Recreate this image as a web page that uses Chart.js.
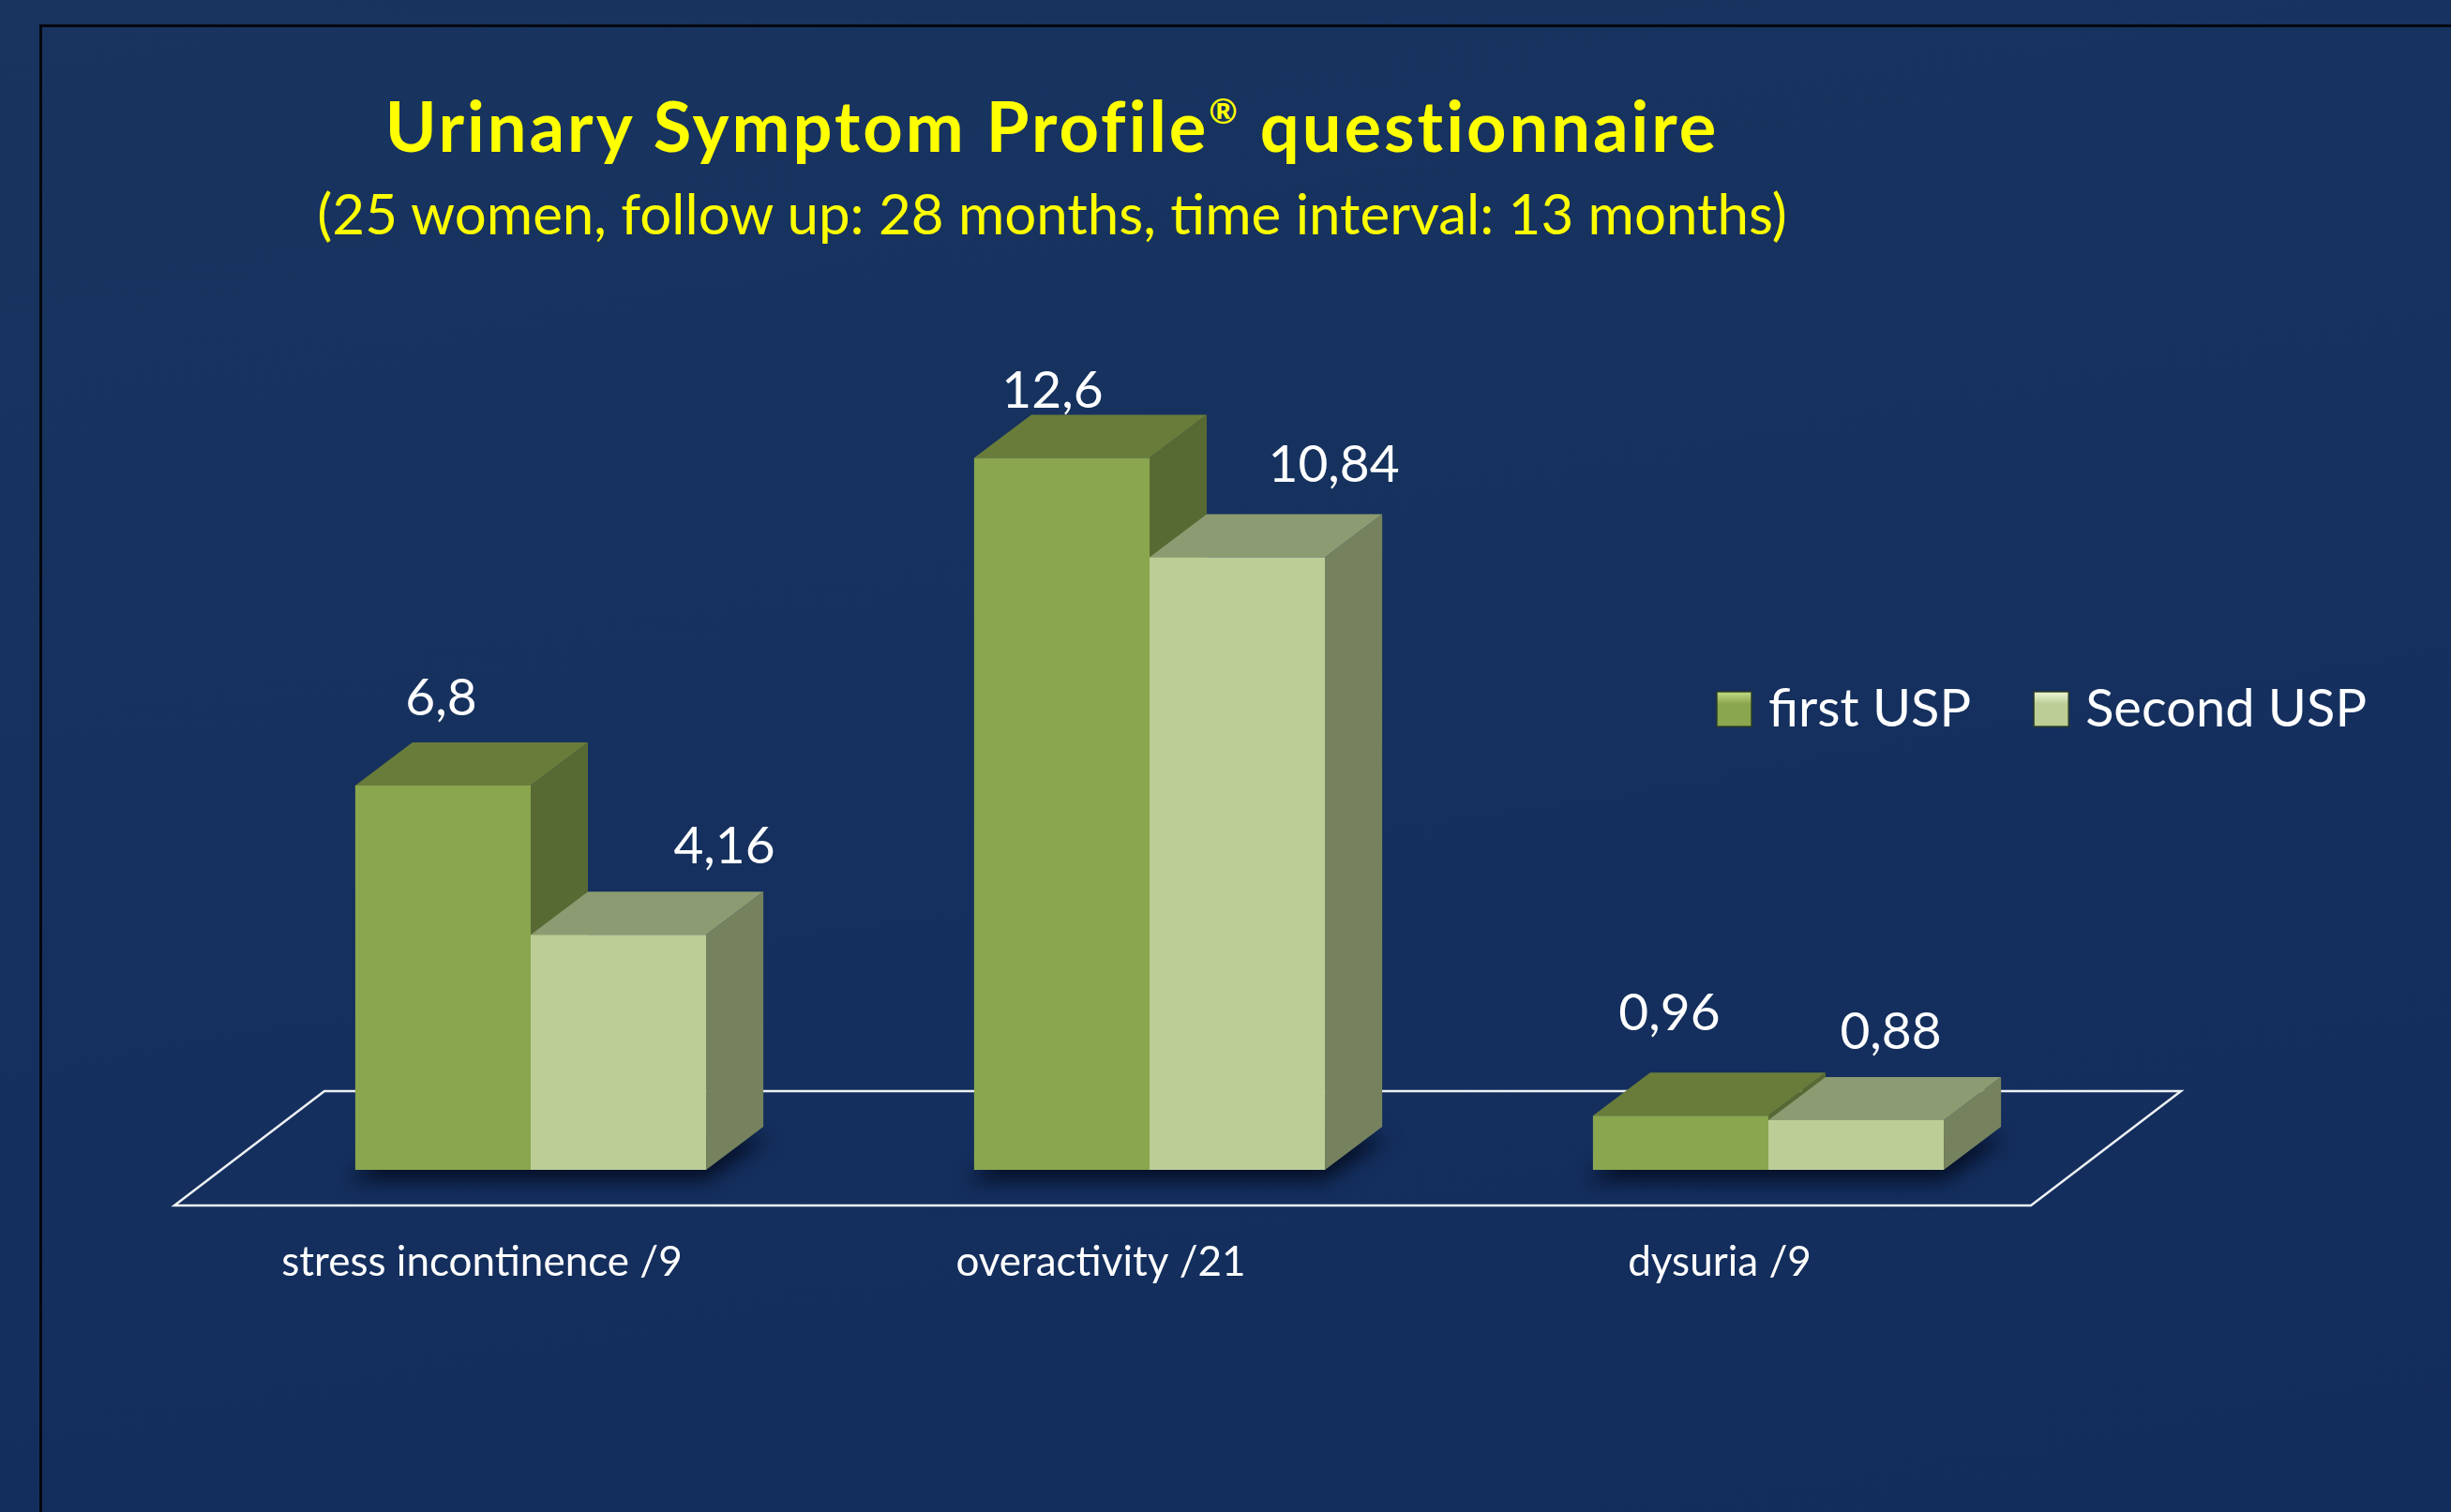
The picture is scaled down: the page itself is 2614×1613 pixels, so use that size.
<!DOCTYPE html>
<html>
<head>
<meta charset="utf-8">
<script src="https://cdn.jsdelivr.net/npm/chart.js@4.4.1/dist/chart.umd.min.js"></script>
<style>
  html, body { margin: 0; padding: 0; }
  body {
    width: 2614px; height: 1613px; overflow: hidden; position: relative;
    background: linear-gradient(170deg, #18345f 0%, #15305e 55%, #122c5b 100%);
    font-family: Lato, sans-serif;
  }
  #frame {
    position: absolute; left: 42px; top: 26px; width: 3000px; height: 3000px;
    border-left: 3px solid #05080f; border-top: 3px solid #05080f;
  }
  .title {
    position: absolute; left: 1122px; transform: translateX(-50%);
    white-space: nowrap; color: #ffff00; line-height: 1.2;
  }
  #t1 { top: 90px; font-size: 74px; font-weight: 700; letter-spacing: 3px; }
  #t1 sup { font-size: 0.5em; vertical-align: baseline; position: relative; top: -0.8em; line-height: 0; }
  #t2 { top: 191px; font-size: 60px; }
  canvas { position: absolute; left: 0; top: 0; }
</style>
</head>
<body>
<div id="frame"></div>
<div class="title" id="t1">Urinary Symptom Profile<sup>®</sup> questionnaire</div>
<div class="title" id="t2">(25 women, follow up: 28 months, time interval: 13 months)</div>
<canvas id="chart" width="2614" height="1613"></canvas>
<script>
// ---- Data ----
const categories = ['stress incontinence /9', 'overactivity /21', 'dysuria /9'];
const seriesNames = ['first USP', 'Second USP'];
const firstUSP = [6.8, 12.6, 0.96];
const secondUSP = [4.16, 10.84, 0.88];

// ---- Styles ----
const frontColors = ['#8aa64e', '#bccd96'];
const topColors = ['#6a7c3a', '#8d9b72'];
const sideColors = ['#586a34', '#76825e'];
const legendLight = ['#c4dc86', '#eef6d6'];
const DX = 61, DY = -46; // depth of the boxes

// 3D floor, shadows, top and side faces of the boxes
const boxes3d = {
  id: 'boxes3d',
  beforeDatasetsDraw(chart) {
    const ctx = chart.ctx, a = chart.chartArea;
    ctx.save();

    // floor
    ctx.strokeStyle = '#eef1f6';
    ctx.lineWidth = 2.5;
    ctx.beginPath();
    ctx.moveTo(a.left - 50, a.bottom + 38);
    ctx.lineTo(a.right - 50, a.bottom + 38);
    ctx.lineTo(a.right + 110, a.bottom - 84);
    ctx.lineTo(a.left + 110, a.bottom - 84);
    ctx.closePath();
    ctx.stroke();

    const metas = chart.data.datasets.map((ds, d) => chart.getDatasetMeta(d));
    const n = chart.data.labels.length;

    // shadows under each group
    ctx.filter = 'blur(10px)';
    ctx.fillStyle = 'rgba(3,10,30,0.85)';
    for (let i = 0; i < n; i++) {
      const first = metas[0].data[i], last = metas[metas.length - 1].data[i];
      const l = first.x - first.width / 2 - 8, r = last.x + last.width / 2;
      const b = first.base + 12;
      ctx.beginPath();
      ctx.moveTo(l, b);
      ctx.lineTo(r, b);
      ctx.lineTo(r + DX + 6, b + DY);
      ctx.lineTo(l + DX, b + DY);
      ctx.closePath();
      ctx.fill();
    }
    ctx.filter = 'none';

    // side and top faces
    for (let i = 0; i < n; i++) {
      metas.forEach((meta, d) => {
        const bar = meta.data[i];
        const l = bar.x - bar.width / 2, r = bar.x + bar.width / 2;
        const t = bar.y, b = bar.base;
        ctx.fillStyle = sideColors[d];
        ctx.beginPath();
        ctx.moveTo(r, t);
        ctx.lineTo(r + DX, t + DY);
        ctx.lineTo(r + DX, b + DY);
        ctx.lineTo(r, b);
        ctx.closePath();
        ctx.fill();
        ctx.fillStyle = topColors[d];
        ctx.beginPath();
        ctx.moveTo(l, t);
        ctx.lineTo(l + DX, t + DY);
        ctx.lineTo(r + DX, t + DY);
        ctx.lineTo(r, t);
        ctx.closePath();
        ctx.fill();
      });
    }
    ctx.restore();
  }
};

// value labels above the boxes (comma decimals)
const valueLabels = {
  id: 'valueLabels',
  afterDatasetsDraw(chart, args, opts) {
    const ctx = chart.ctx;
    ctx.save();
    ctx.font = opts.size + 'px Lato';
    ctx.fillStyle = '#ffffff';
    ctx.textAlign = 'center';
    ctx.textBaseline = 'alphabetic';
    chart.data.datasets.forEach((ds, d) => {
      chart.getDatasetMeta(d).data.forEach((bar, i) => {
        const nudge = opts.nudge[d][i];
        const txt = String(ds.data[i]).replace('.', ',');
        ctx.fillText(txt, bar.x + nudge[0], bar.y - nudge[1]);
      });
    });
    ctx.restore();
  }
};

// legend on the right
const sideLegend = {
  id: 'sideLegend',
  afterDraw(chart, args, opts) {
    const ctx = chart.ctx;
    let x = opts.x;
    const y = opts.y, s = opts.box;
    ctx.save();
    ctx.font = opts.size + 'px Lato';
    ctx.textBaseline = 'alphabetic';
    chart.data.datasets.forEach((ds, d) => {
      const g = ctx.createLinearGradient(0, y, 0, y + s);
      g.addColorStop(0, legendLight[d]);
      g.addColorStop(0.35, ds.backgroundColor);
      g.addColorStop(1, ds.backgroundColor);
      ctx.fillStyle = g;
      ctx.fillRect(x, y, s, s);
      ctx.strokeStyle = 'rgba(45,60,30,0.9)';
      ctx.lineWidth = 1.5;
      ctx.strokeRect(x, y, s, s);
      ctx.fillStyle = '#ffffff';
      ctx.fillText(ds.label, x + s + 18, y + s);
      x += s + 18 + ctx.measureText(ds.label).width + 67;
    });
    ctx.restore();
  }
};

new Chart(document.getElementById('chart'), {
  type: 'bar',
  data: {
    labels: categories,
    datasets: [
      { label: seriesNames[0], data: firstUSP, backgroundColor: frontColors[0] },
      { label: seriesNames[1], data: secondUSP, backgroundColor: frontColors[1] }
    ]
  },
  options: {
    responsive: false,
    devicePixelRatio: 1,
    animation: false,
    layout: { padding: { left: 236, right: 398, top: 404, bottom: 235 } },
    datasets: { bar: { barPercentage: 1, categoryPercentage: 0.567, borderWidth: 0 } },
    scales: {
      x: {
        offset: true,
        grid: { display: false, drawTicks: false },
        border: { display: false },
        ticks: {
          color: '#ffffff',
          font: { family: 'Lato', size: 44 },
          padding: 72,
          labelOffset: -52,
          maxRotation: 0,
          autoSkip: false
        },
        afterFit(scale) { scale.height = 130; }
      },
      y: { display: false, min: 0, max: 14 }
    },
    plugins: {
      legend: { display: false },
      tooltip: { enabled: false },
      valueLabels: {
        size: 55,
        nudge: [
          [[-2, 75], [-10, 53], [-12, 91]],
          [[113, 76], [103, 81], [37, 76]]
        ]
      },
      sideLegend: { x: 1831, y: 738, box: 37, size: 56 }
    }
  },
  plugins: [boxes3d, valueLabels, sideLegend]
});
</script>
</body>
</html>
